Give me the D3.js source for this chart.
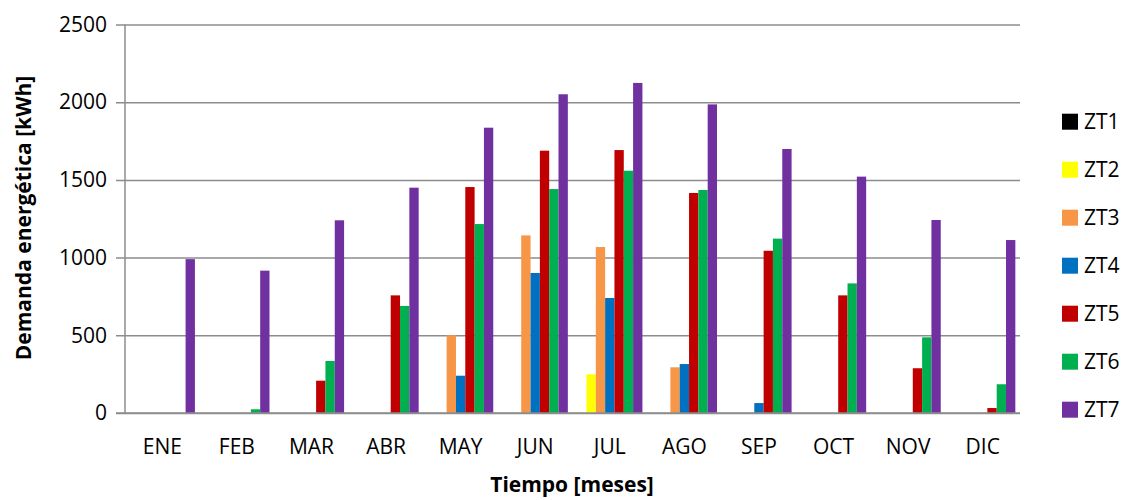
<!DOCTYPE html>
<html>
<head>
<meta charset="utf-8">
<script src="https://cdn.jsdelivr.net/npm/d3@7"></script>
<style>
  html, body { margin: 0; padding: 0; background: #fff; }
  svg text { font-family: "Open Sans", "Noto Sans", sans-serif; fill: #000; }
</style>
</head>
<body>
<svg id="chart" width="1125" height="500"></svg>
<script>
// Monthly energy demand per thermal zone [kWh]
const months = ["ENE", "FEB", "MAR", "ABR", "MAY", "JUN", "JUL", "AGO", "SEP", "OCT", "NOV", "DIC"];
const zones = ["ZT1", "ZT2", "ZT3", "ZT4", "ZT5", "ZT6", "ZT7"];
const zt1 = [0, 0, 0, 0, 0, 0, 0, 0, 0, 0, 0, 0];
const zt2 = [0, 0, 0, 0, 0, 0, 249, 0, 0, 0, 0, 0];
const zt3 = [0, 0, 0, 0, 500, 1143, 1068, 294, 0, 0, 0, 0];
const zt4 = [0, 0, 0, 0, 240, 901, 740, 315, 64, 0, 0, 0];
const zt5 = [0, 0, 208, 757, 1454, 1688, 1692, 1416, 1044, 757, 288, 32];
const zt6 = [0, 24, 335, 689, 1216, 1441, 1559, 1435, 1122, 834, 487, 185];
const zt7 = [990, 916, 1240, 1450, 1836, 2051, 2124, 1986, 1699, 1521, 1242, 1113];
const yTicks = [0, 500, 1000, 1500, 2000, 2500];
const colors = ["#000000", "#FFFF00", "#F79646", "#0070C0", "#C00000", "#00B050", "#7030A0"];

const seriesValues = [zt1, zt2, zt3, zt4, zt5, zt6, zt7];
const table = months.map((m, i) => ({ month: m, values: zones.map((z, k) => ({ zone: z, value: seriesValues[k][i] })) }));

const svg = d3.select("#chart");
const margin = { left: 125, right: 105, top: 24.5, bottom: 87 };
const W = 1125, H = 500;
const x0 = margin.left, x1 = W - margin.right, yTop = margin.top, yBot = H - margin.bottom;

const x = d3.scaleBand().domain(months).range([x0, x1]).paddingInner(1 / 8).paddingOuter(1 / 16);
const xz = d3.scaleBand().domain(zones).range([0, x.bandwidth()]);
const y = d3.scaleLinear().domain([0, 2500]).range([yBot, yTop]);
const color = d3.scaleOrdinal().domain(zones).range(colors);

// Horizontal gridlines with short left ticks
const yAxis = d3.axisLeft(y).tickValues(yTicks).tickFormat(d3.format("d"))
  .tickSize(-(x1 - x0 + 9)).tickPadding(16);
const gy = svg.append("g").attr("transform", `translate(${x0 - 9},0)`).call(yAxis);
gy.select(".domain").remove();
gy.selectAll(".tick line").attr("stroke", "#8c8c8c").attr("stroke-width", 1.5).attr("x1", 0);
gy.selectAll(".tick text").attr("font-size", 21).attr("fill", "#000").attr("dx", 7);

// Vertical axis line
svg.append("line").attr("x1", x0).attr("x2", x0).attr("y1", yTop).attr("y2", yBot)
  .attr("stroke", "#8c8c8c").attr("stroke-width", 1.5);

// Bars
const groups = svg.append("g").selectAll("g").data(table).join("g")
  .attr("transform", d => `translate(${x(d.month)},0)`);
groups.selectAll("rect").data(d => d.values.filter(v => v.value > 0)).join("rect")
  .attr("x", d => xz(d.zone))
  .attr("width", xz.bandwidth())
  .attr("y", d => y(d.value))
  .attr("height", d => yBot - y(d.value))
  .attr("fill", d => color(d.zone));

// Baseline drawn over the bars
svg.append("line").attr("x1", x0 - 9).attr("x2", x1).attr("y1", yBot).attr("y2", yBot)
  .attr("stroke", "#8c8c8c").attr("stroke-width", 1.5);

// Month labels
const xAxis = d3.axisBottom(x).tickSize(0).tickPadding(26);
const gx = svg.append("g").attr("transform", `translate(0,${yBot})`).call(xAxis);
gx.select(".domain").remove();
gx.selectAll(".tick text").attr("font-size", 21).attr("fill", "#000");

// Axis titles
svg.append("text").attr("x", 572).attr("y", 492).attr("text-anchor", "middle")
  .attr("font-size", 21).attr("font-weight", "bold").text("Tiempo [meses]");
svg.append("text").attr("transform", "translate(31,218) rotate(-90)").attr("text-anchor", "middle")
  .attr("font-size", 21).attr("font-weight", "bold").text("Demanda energética [kWh]");

// Legend
const legend = svg.append("g").selectAll("g").data(zones).join("g")
  .attr("transform", (d, i) => `translate(1062,${121.7 + i * 48})`);
legend.append("rect").attr("x", 0).attr("y", -8).attr("width", 16).attr("height", 16)
  .attr("fill", d => color(d));
legend.append("text").attr("x", 22).attr("y", 0).attr("dy", "0.35em")
  .attr("font-size", 21).text(d => d);
</script>
</body>
</html>
